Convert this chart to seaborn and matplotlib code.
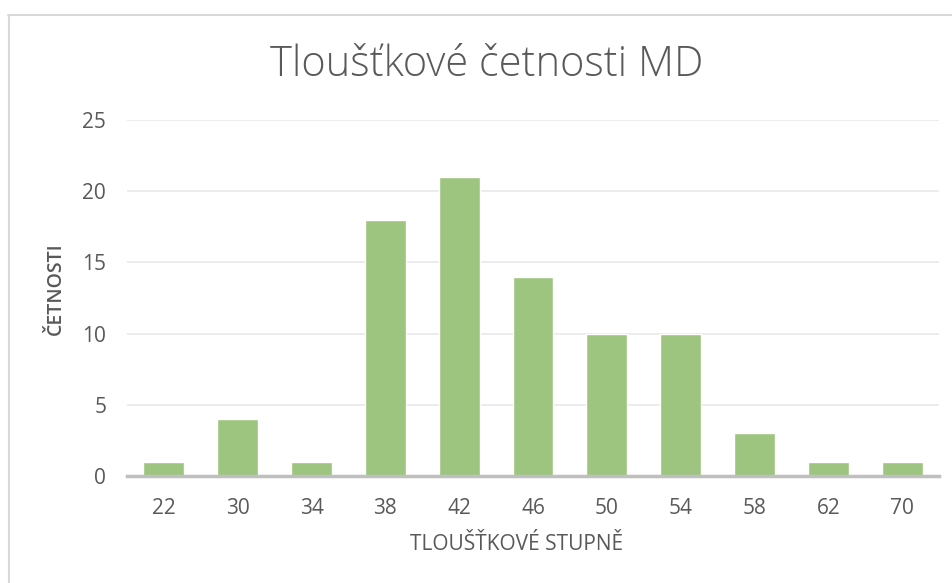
import matplotlib
matplotlib.use("Agg")
import matplotlib.pyplot as plt
import seaborn as sns
import pandas as pd
from matplotlib.lines import Line2D

categories = ["22", "30", "34", "38", "42", "46", "50", "54", "58", "62", "70"]
counts = [1, 4, 1, 18, 21, 14, 10, 10, 3, 1, 1]
title = "Tloušťkové četnosti MD"
xlabel = "TLOUŠŤKOVÉ STUPNĚ"
ylabel = "ČETNOSTI"

sns.set_theme(style="white")
plt.rcParams['font.family'] = ['Open Sans', 'DejaVu Sans']

df = pd.DataFrame({"stupen": categories, "cetnost": counts})

W, H = 953, 583
L, R, T, B = 127, 939, 120, 476
fig = plt.figure(figsize=(W / 100, H / 100), dpi=100)
ax = fig.add_axes([L / W, 1 - B / H, (R - L) / W, (B - T) / H])

sns.barplot(data=df, x="stupen", y="cetnost", order=categories, color="#9DC57F",
            saturation=1, width=0.555, ax=ax, zorder=3)

ax.set_ylim(0, 25)
ax.set_yticks([0, 5, 10, 15, 20, 25])
ax.set_xlim(-0.5, len(categories) - 0.5)
ax.yaxis.grid(True, color="#EBEBEB", linewidth=1.3, zorder=0)
ax.xaxis.grid(False)
for s in ["top", "right", "left"]:
    ax.spines[s].set_visible(False)
ax.spines["bottom"].set_color("#BFBFBF")
ax.spines["bottom"].set_linewidth(2.5)
ax.spines["bottom"].set_zorder(4)
ax.tick_params(axis="both", length=0, labelsize=15, colors="#595959")
ax.tick_params(axis="y", pad=15)
ax.tick_params(axis="x", pad=16)

ax.set_xlabel(xlabel, fontsize=15, color="#595959")
ax.xaxis.set_label_coords((517 - L) / (R - L), (B - 545) / (B - T))
ax.xaxis.label.set_va("center")
ax.set_ylabel(ylabel, fontsize=14, color="#595959", fontweight="semibold")
ax.yaxis.set_label_coords((56 - L) / (R - L), (B - 289) / (B - T))
ax.yaxis.label.set_va("center")

fig.text(487 / W, 1 - 65 / H, title, ha="center", va="center", fontsize=30,
         color="#595959", fontweight="light")

fig.add_artist(Line2D([8 / W, 1], [1 - 15 / H, 1 - 15 / H], transform=fig.transFigure,
                      color="#D9D9D9", linewidth=1.5))
fig.add_artist(Line2D([9 / W, 9 / W], [0, 1 - 15 / H], transform=fig.transFigure,
                      color="#D9D9D9", linewidth=1.5))

fig.savefig("out.png", dpi=100)
